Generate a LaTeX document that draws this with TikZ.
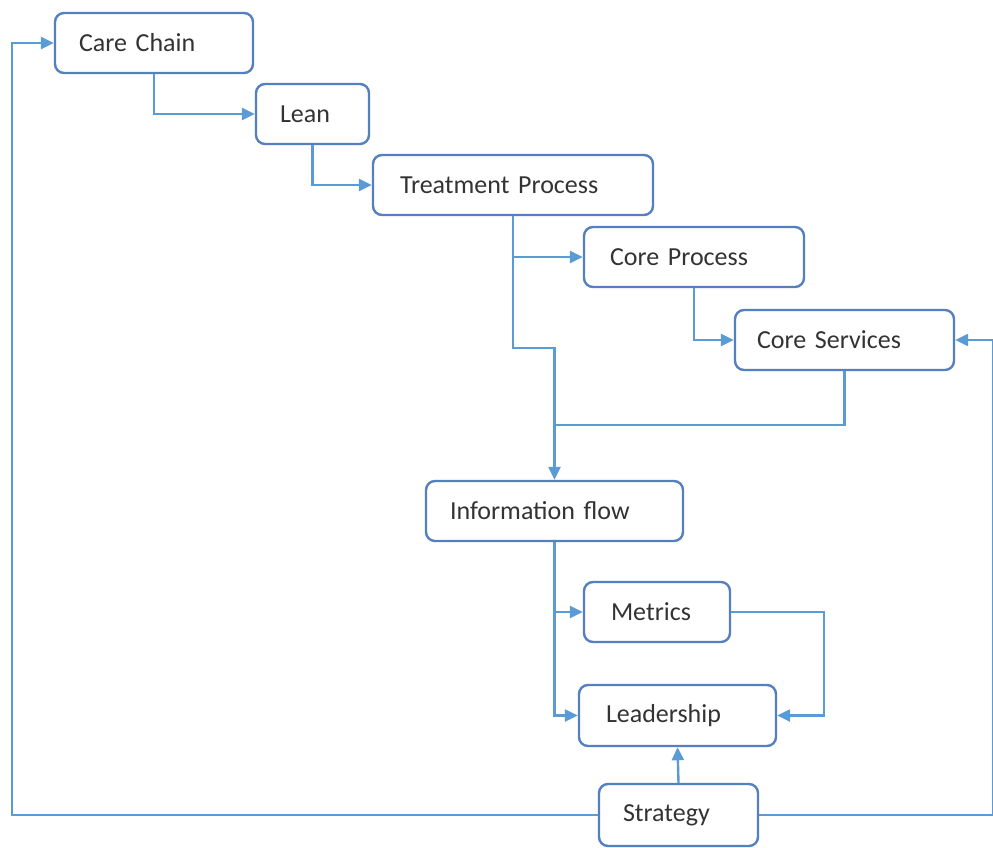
\documentclass[tikz,border=0pt]{standalone}
\usepackage{fontspec}
\setmainfont{Carlito}
\usetikzlibrary{arrows.meta}
\definecolor{linec}{HTML}{5B9BD5}
\definecolor{boxc}{HTML}{5580C0}
\definecolor{txtc}{HTML}{333333}
\begin{document}
\begin{tikzpicture}[x=1pt,y=-1pt,
  box/.style={draw=boxc, line width=2.4pt, rounded corners=9pt, fill=white,
    minimum height=60pt, inner ysep=0pt, align=left, text=txtc,
    font=\fontsize{26}{30}\selectfont},
  arr/.style={draw=linec, line width=2.4pt, -{Triangle[length=13pt,width=12pt]}},
  ln/.style={draw=linec, line width=2.4pt}]
\useasboundingbox (0,0) rectangle (993,848);

\node[box, inner xsep=24pt, text width=150pt] (care) at (154,43) {Care Chain};
\node[box, inner xsep=24pt, text width=65pt] (lean) at (312.5,114) {Lean};
\node[box, inner xsep=27pt, text width=226pt] (treat) at (513,185) {Treatment Process};
\node[box, inner xsep=26pt, text width=168pt] (cproc) at (694,257) {Core Process};
\node[box, inner xsep=22pt, text width=175pt] (cserv) at (844.5,340) {Core Services};
\node[box, inner xsep=24pt, text width=209pt] (info) at (554.5,511) {Information flow};
\node[box, inner xsep=27pt, text width=92pt] (metrics) at (657,612) {Metrics};
\node[box, inner xsep=27pt, text width=143pt, minimum height=61pt] (lead) at (677.5,715.5) {Leadership};
\node[box, inner xsep=24pt, text width=111pt, minimum height=62pt] (strat) at (678.5,815) {Strategy};

\coordinate (j1) at (554.5,348);
\coordinate (j2) at (554.5,425);
\coordinate (m1) at (824,612);
\coordinate (l1) at (12,815);
\coordinate (r1) at (993.5,815);

\draw[arr] (care.south) |- (lean.west);
\draw[arr] (lean.south) |- (treat.west);
\draw[arr] (treat.south) |- (cproc.west);
\draw[arr] (treat.south) |- (j1) -- (info.north);
\draw[arr] (cproc.south) |- (cserv.west);
\draw[ln] (cserv.south) |- (j2);
\draw[arr] (info.south) |- (metrics.west);
\draw[arr] (info.south) |- (lead.west);
\draw[arr] (metrics.east) -- (m1) |- (lead.east);
\draw[arr] (strat.north) -- (lead.south);
\draw[arr] (strat.west) -- (l1) |- (care.west);
\draw[arr] (strat.east) -- (r1) |- (cserv.east);
\end{tikzpicture}
\end{document}
